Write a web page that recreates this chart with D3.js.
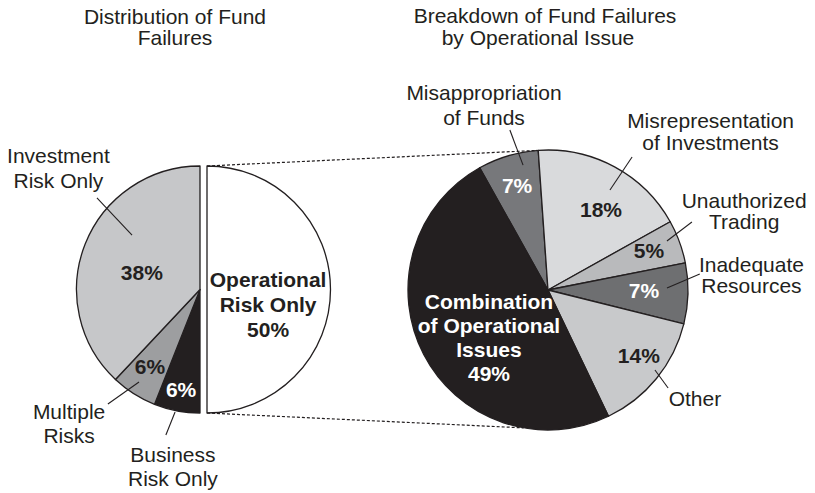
<!DOCTYPE html>
<html>
<head>
<meta charset="utf-8">
<script src="https://cdn.jsdelivr.net/npm/d3@7/dist/d3.min.js"></script>
<style>
body{margin:0;background:#fff;}
svg text{font-family:"Liberation Sans",Arial,Helvetica,sans-serif;fill:#231f20;}
</style>
</head>
<body>
<svg id="chart"></svg>
<script>
// left pie - all fund failures
var failLabels = [["Operational","Risk Only"],["Business","Risk Only"],["Multiple","Risks"],["Investment","Risk Only"]];
var failShares = [50,6,6,38];

// right pie - breakdown of the operational slice
var opLabels = [["Misappropriation","of Funds"],["Misrepresentation","of Investments"],["Unauthorized","Trading"],
                ["Inadequate","Resources"],["Other"],["Combination","of Operational","Issues"]];
var opShares = [7,18,5,7,14,49];

var titles = [["Distribution of Fund","Failures"],["Breakdown of Fund Failures","by Operational Issue"]];

// styles / placement (angles in degrees clockwise from 12 o'clock, radii as fraction of pie radius)
var leftColors = ["#ffffff","#231f20","#9d9ea0","#c6c7c9"];
var rightColors = ["#77787b","#d9dadc","#b9babc","#6e6f71","#c8c9cb","#231f20"];

var leftLayout = [
    {pct:{a:104,r:0.51},inside:true,lh:25},
    {pct:{a:190.7,r:0.825},lab:{a:188.7,r:1.45},lh:24,lead:[[191.5,1.012],[193.2,1.21]]},
    {pct:{a:213,r:0.744},lab:{a:224.3,r:1.518},lh:24,lead:[[213.4,0.897],[218.8,1.19]]},
    {pct:{a:286.2,r:0.49},lab:{a:310.6,r:1.51},lh:25,lead:[[308.7,0.705],[311.6,1.116]]}
];
var rightLayout = [
    {pct:{a:343.5,r:0.778},lab:{a:340.9,r:1.397},lh:25,lead:[[346.6,1.175],[348.7,0.91]]},
    {pct:{a:33.4,r:0.688},lab:{a:45.8,r:1.62},lh:22,lead:[[32.3,1.124],[31.8,0.84]]},
    {pct:{a:68.7,r:0.774},lab:{a:68.1,r:1.51},lh:21,lead:[[64.7,1.137],[67.6,0.919]]},
    {pct:{a:90.4,r:0.686},lab:{a:85.8,r:1.457},lh:21,lead:[[84,1.09],[89,0.85]]},
    {pct:{a:125.8,r:0.80},lab:{a:126.5,r:1.306},lh:24,lead:[[126.8,0.954],[129.2,1.107]]},
    {pct:{a:230.8,r:0.544},inside:true,lh:24}
];

var width=815, height=493;
var svg=d3.select("#chart").attr("width",width).attr("height",height);

var rad=function(deg){return deg*Math.PI/180;};
function polar(c,deg,r){
    return [c[0]+r*Math.sin(rad(deg)), c[1]-r*Math.cos(rad(deg))];
}
function isDark(col){ return d3.hsl(col).l<0.5; }

function textBlock(g,lines,pos,lh,bold,fill){
    var y0=pos[1]-(lines.length-1)*lh/2;
    lines.forEach(function(t,i){
        g.append("text")
            .attr("x",pos[0]).attr("y",y0+i*lh).attr("dy","0.35em")
            .attr("text-anchor","middle")
            .style("font-size","21px")
            .style("font-weight",bold?"bold":"normal")
            .style("fill",fill)
            .text(t);
    });
}

function drawPie(opt){
    var c=opt.center, R=opt.radius;
    var pie=d3.pie().sort(null).value(function(d){return d;}).startAngle(rad(opt.start)).endAngle(rad(opt.start)+2*Math.PI);
    var arc=d3.arc().innerRadius(0).outerRadius(R);
    var slices=pie(opt.values);
    var g=svg.append("g");

    slices.forEach(function(s,i){
        var off=opt.explode[i]||0;
        var mid=(s.startAngle+s.endAngle)/2;
        var sc=[c[0]+off*Math.sin(mid), c[1]-off*Math.cos(mid)];
        s.center=sc;

        g.append("path")
            .attr("transform","translate("+sc[0]+","+sc[1]+")")
            .attr("d",arc(s))
            .attr("fill",opt.colors[i])
            .attr("stroke","#231f20")
            .attr("stroke-width",1.3)
            .attr("stroke-linejoin","round");
    });

    slices.forEach(function(s,i){
        var lay=opt.layout[i];
        var col=opt.colors[i];
        var txtFill=isDark(col)?"#ffffff":"#231f20";
        var pctTxt=opt.values[i]+"%";
        var p=polar(s.center,lay.pct.a,lay.pct.r*R);
        if(lay.inside){
            textBlock(g,opt.labels[i].concat([pctTxt]),p,lay.lh,true,txtFill);
        }else{
            textBlock(g,[pctTxt],p,lay.lh,true,txtFill);
            var a=polar(c,lay.lead[0][0],lay.lead[0][1]*R);
            var b=polar(c,lay.lead[1][0],lay.lead[1][1]*R);
            g.append("line")
                .attr("x1",a[0]).attr("y1",a[1]).attr("x2",b[0]).attr("y2",b[1])
                .attr("stroke","#231f20").attr("stroke-width",1.1);
            textBlock(g,opt.labels[i],polar(c,lay.lab.a,lay.lab.r*R),lay.lh,false,"#231f20");
        }
    });
    return slices;
}

var leftC=[200,289.5], leftR=123.5;
var rightC=[548,290], rightR=140;

var leftSlices=drawPie({center:leftC,radius:leftR,values:failShares,labels:failLabels,
    colors:leftColors,layout:leftLayout,start:0,explode:[7]});

var rightSlices=drawPie({center:rightC,radius:rightR,values:opShares,labels:opLabels,
    colors:rightColors,layout:rightLayout,start:-4-opShares[0]*3.6,explode:[]});

// dashed connectors from the exploded slice to the breakdown pie
var op=leftSlices[0];
var links=[
    [polar(op.center,op.startAngle*180/Math.PI,leftR), polar(rightC,-4.5,rightR)],
    [polar(op.center,op.endAngle*180/Math.PI,leftR), polar(rightC,190,rightR)]
];
svg.append("g").selectAll("line").data(links).enter().append("line")
    .attr("x1",function(d){return d[0][0];}).attr("y1",function(d){return d[0][1];})
    .attr("x2",function(d){return d[1][0];}).attr("y2",function(d){return d[1][1];})
    .attr("stroke","#231f20").attr("stroke-width",1.2).attr("stroke-dasharray","3,2");

// titles
var titlePos=[[[175,24],[175,45]],[[545,23],[538,45]]];
titles.forEach(function(t,i){
    t.forEach(function(line,j){
        svg.append("text")
            .attr("x",titlePos[i][j][0]).attr("y",titlePos[i][j][1])
            .attr("text-anchor","middle")
            .style("font-size","21px")
            .text(line);
    });
});
</script>
</body>
</html>
